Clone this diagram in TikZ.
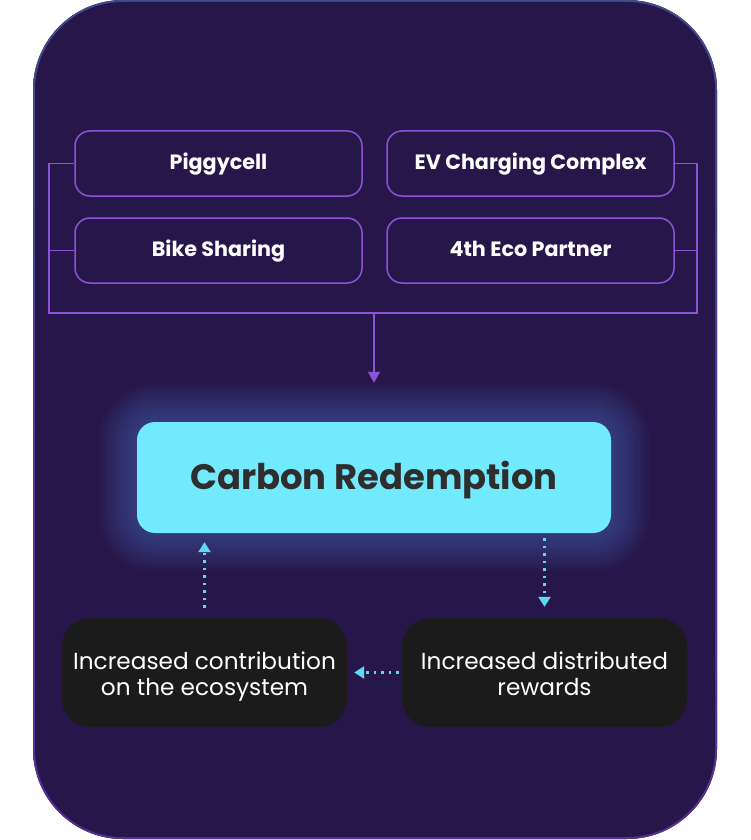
\documentclass[tikz,border=0pt]{standalone}
\usepackage{fontspec}
\setmainfont{Poppins}
\usetikzlibrary{arrows.meta,calc}
\definecolor{bordtop}{HTML}{3F4C8F}
\definecolor{bordbot}{HTML}{5A2E97}
\definecolor{bgpurple}{HTML}{27164A}
\definecolor{linepurple}{HTML}{8D52D6}
\definecolor{cyanbox}{HTML}{72EAFD}
\definecolor{cyandot}{HTML}{5FD8F5}
\definecolor{darktext}{HTML}{2E2E2E}
\definecolor{blackbox}{HTML}{1B1B1B}
\definecolor{glowcol}{HTML}{4A78C8}
\begin{document}
\begin{tikzpicture}[x=1pt,y=-1pt,
  topbox/.style={draw=linepurple, line width=1.5pt, rounded corners=15pt,
    minimum width=287pt, minimum height=65pt, text=white,
    text height=15pt, text depth=3pt,
    font=\fontsize{20.7}{24}\selectfont\bfseries},
  mainbox/.style={fill=cyanbox, rounded corners=18pt, minimum width=474pt,
    minimum height=111pt},
  maintext/.style={text=darktext, font=\fontsize{35.4}{40}\selectfont\bfseries},
  loopbox/.style={fill=blackbox, rounded corners=28pt, minimum width=285pt,
    minimum height=109pt},
  looptext/.style={text=white, align=center, font=\fontsize{23.2}{26}\selectfont},
  bracket/.style={draw=linepurple, line width=1.5pt},
  flowarrow/.style={draw=linepurple, line width=1.5pt,
    -{Triangle[width=12pt,length=11pt]}},
  dotarrow/.style={draw=cyandot, line width=2.5pt, dash pattern=on 2.5pt off 5pt,
    -{Triangle[width=12pt,length=10pt]}}
]
\useasboundingbox (0,0) rectangle (750,840);
% outer panel
\fill[top color=bordtop, bottom color=bordbot, rounded corners=90pt] (33,0) rectangle (717,839);
\fill[bgpurple, rounded corners=88pt] (35,2) rectangle (715,837);
% glow behind main box
\foreach \i in {1,...,12}{
  \pgfmathsetmacro{\d}{\i*3.2}
  \pgfmathsetmacro{\r}{18+\d}
  \fill[glowcol, opacity=0.042, rounded corners=\r pt]
    (137-\d,422-\d) rectangle (611+\d,533+\d);
}
% top boxes
\node[topbox] (pig) at (218.5,163.5) {Piggycell};
\node[topbox] (bike) at (218.5,250.5) {Bike Sharing};
\node[topbox] (ev) at (530.5,163.5) {EV Charging Complex};
\node[topbox] (eco) at (530.5,250.5) {4th Eco Partner};
% main box
\node[mainbox] (carbon) at (374,477.5) {};
\node[maintext] (carbontext) at ([yshift=-3pt]carbon.center) {Carbon Redemption};
% loop boxes
\node[loopbox] (contrib) at (204.5,672.5) {};
\node[looptext] (contribtext) at ([yshift=-4pt]contrib.center) {Increased contribution\\on the ecosystem};
\node[loopbox] (rewards) at (544.5,672.5) {};
\node[looptext] (rewardstext) at ([yshift=-4pt]rewards.center) {Increased distributed\\rewards\vphantom{y}};
% bracket
\coordinate (lb) at (49,313);
\coordinate (rb) at (697,313);
\coordinate (mid) at (374,313);
\draw[bracket] (pig.west) -| (lb) -- (rb) |- (ev.east);
\draw[bracket] (bike.west) -- (bike.west -| lb);
\draw[bracket] (eco.east) -- (eco.east -| rb);
\draw[flowarrow, shorten >=39pt] (mid) -- (carbon.north);
% loop arrows
\draw[dotarrow, shorten <=10pt, shorten >=9pt] (contrib.north) -- (contrib.north |- carbon.south);
\draw[dotarrow, shorten <=5pt, shorten >=11pt] (rewards.north |- carbon.south) -- (rewards.north);
\draw[dotarrow, shorten <=3pt, shorten >=7pt] (rewards.west) -- (contrib.east);
\end{tikzpicture}
\end{document}
